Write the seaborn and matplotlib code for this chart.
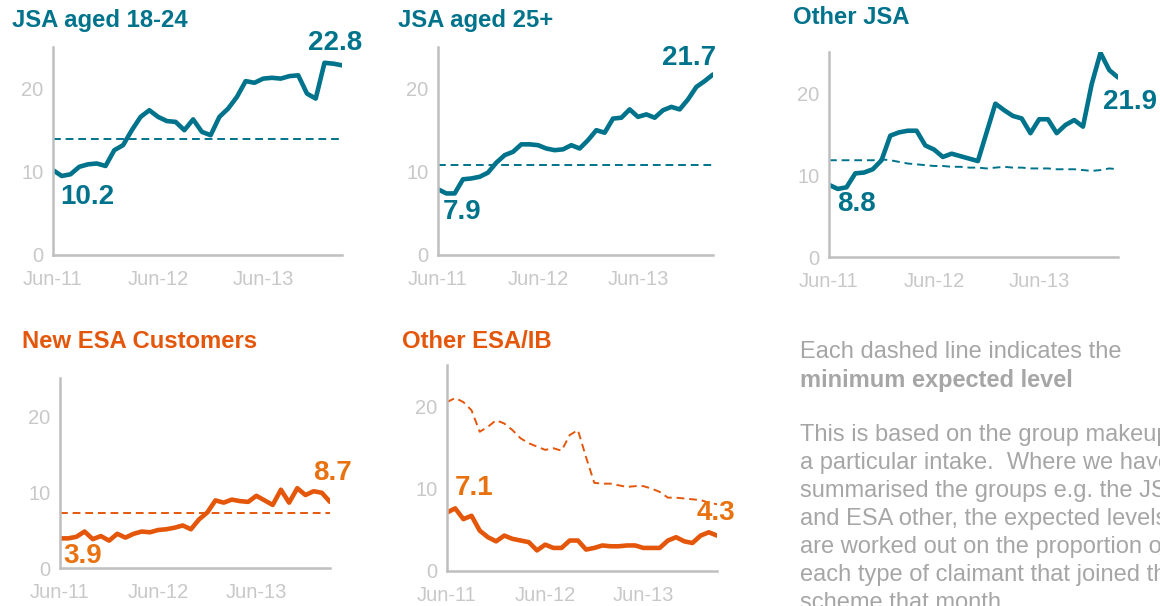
import pandas as pd
import matplotlib.pyplot as plt
import seaborn as sns

# Monthly series, Jun-11 .. Mar-14 (34 months)
months = list(range(34))
tick_pos = [0, 12, 24]
tick_labels = ['Jun-11', 'Jun-12', 'Jun-13']

jsa_18_24 = [10.2, 9.5, 9.7, 10.6, 10.9, 11.0, 10.7, 12.6, 13.2, 15.0, 16.6, 17.4,
             16.6, 16.1, 16.0, 15.0, 16.3, 14.8, 14.4, 16.6, 17.6, 19.0, 20.9, 20.7,
             21.2, 21.3, 21.2, 21.5, 21.6, 19.4, 18.8, 23.1, 23.0, 22.8]
jsa_18_24_exp = 14.0

jsa_25 = [7.9, 7.4, 7.4, 9.1, 9.2, 9.4, 9.9, 11.1, 12.0, 12.4, 13.3, 13.3,
          13.2, 12.8, 12.6, 12.7, 13.2, 12.8, 13.8, 15.0, 14.7, 16.4, 16.5, 17.5,
          16.6, 16.9, 16.5, 17.4, 17.8, 17.5, 18.7, 20.2, 20.9, 21.7]
jsa_25_exp = 10.8

other_jsa = [8.8, 8.3, 8.5, 10.2, 10.3, 10.7, 11.8, 14.8, 15.2, 15.4, 15.4, 13.6,
             13.1, 12.2, 12.6, 12.3, 12.0, 11.7, 15.2, 18.7, 17.9, 17.2, 16.9, 15.1,
             16.8, 16.8, 15.1, 16.1, 16.7, 15.9, 21.1, 24.9, 22.8, 21.9]
other_jsa_exp = [11.8, 11.8, 11.8, 11.8, 11.8, 11.8, 11.9, 11.8, 11.6, 11.4, 11.3, 11.2,
                 11.1, 11.1, 11.0, 11.0, 10.9, 10.9, 10.8, 10.9, 11.0, 10.9, 10.9, 10.8,
                 10.8, 10.8, 10.7, 10.7, 10.7, 10.6, 10.5, 10.6, 10.8, 10.7]

new_esa = [3.9, 3.9, 4.1, 4.8, 3.8, 4.2, 3.6, 4.5, 4.0, 4.5, 4.8, 4.7,
           5.0, 5.1, 5.3, 5.6, 5.1, 6.4, 7.3, 8.9, 8.6, 9.0, 8.8, 8.7,
           9.5, 8.9, 8.3, 10.3, 8.6, 10.5, 9.6, 10.1, 9.9, 8.7]
new_esa_exp = 7.3

other_esa = [7.1, 7.6, 6.3, 6.7, 4.9, 4.1, 3.6, 4.3, 3.9, 3.7, 3.5, 2.5,
             3.2, 2.8, 2.8, 3.7, 3.7, 2.6, 2.8, 3.1, 3.0, 3.0, 3.1, 3.1,
             2.8, 2.8, 2.8, 3.7, 4.1, 3.6, 3.4, 4.3, 4.7, 4.3]
other_esa_exp = [20.5, 21.0, 20.5, 19.5, 16.9, 17.5, 18.3, 17.9, 17.1, 16.1, 15.5, 15.1,
                 14.7, 14.9, 14.6, 16.5, 17.1, 13.8, 10.7, 10.6, 10.6, 10.4, 10.2, 10.3,
                 10.3, 10.0, 9.6, 8.9, 8.9, 8.8, 8.7, 8.6, 8.3, 8.1]

TEAL = '#00738c'
ORANGE = '#e4570b'
ORANGE_LBL = '#e8720f'
GRID_GREY = '#bfbfbf'
TICK_GREY = '#c8c8c8'
TEXT_GREY = '#a6a6a6'

sns.set_style('white')
plt.rcParams['font.family'] = ['Liberation Sans', 'DejaVu Sans']

W, H = 1160, 606
fig = plt.figure(figsize=(W / 100, H / 100), dpi=100)


def px_axes(left, right, top, bottom):
    return fig.add_axes([left / W, 1 - bottom / H, (right - left) / W, (bottom - top) / H])


def panel(ax, title, tx, ty, values, expected, color, lbl_color, start_off, end_off):
    df = pd.DataFrame({'month': months, 'value': values})
    sns.lineplot(data=df, x='month', y='value', ax=ax, color=color, lw=3.3,
                 solid_capstyle='round', solid_joinstyle='round')
    if isinstance(expected, list):
        dfe = pd.DataFrame({'month': months, 'value': expected})
        sns.lineplot(data=dfe, x='month', y='value', ax=ax, color=color, lw=1.4,
                     linestyle=(0, (4, 2.5)))
    else:
        ax.axhline(expected, color=color, lw=1.4, linestyle=(0, (4, 2.5)))
    ax.set_xlim(0, 33)
    ax.set_ylim(0, 25)
    ax.set_xticks(tick_pos)
    ax.set_xticklabels(tick_labels)
    ax.set_yticks([0, 10, 20])
    ax.set_xlabel('')
    ax.set_ylabel('')
    sns.despine(ax=ax)
    for s in ['left', 'bottom']:
        ax.spines[s].set_color(GRID_GREY)
        ax.spines[s].set_linewidth(1.8)
    ax.tick_params(axis='both', colors=GRID_GREY, labelcolor=TICK_GREY,
                   labelsize=14.5, length=5, width=1.5, direction='out')
    ax.tick_params(axis='x', pad=6)
    ax.tick_params(axis='y', pad=2)
    ax.patch.set_alpha(0)
    for idx, off in [(0, start_off), (len(values) - 1, end_off)]:
        ax.annotate(f'{values[idx]:.1f}', (months[idx], values[idx]),
                    xytext=off, textcoords='offset pixels', ha='center', va='center',
                    fontsize=20, fontweight='bold', color=lbl_color,
                    annotation_clip=False)
    fig.text(tx / W, 1 - ty / H, title, fontsize=17.2, fontweight='bold',
             color=color, ha='left', va='center')


ax1 = px_axes(53, 342, 47, 255)
panel(ax1, 'JSA aged 18-24', 12, 20, jsa_18_24, jsa_18_24_exp, TEAL, TEAL, (34, -27), (-7, 22))

ax2 = px_axes(438, 713, 47, 255)
panel(ax2, 'JSA aged 25+', 398, 20, jsa_25, jsa_25_exp, TEAL, TEAL, (24, -23), (-24, 16))

ax3 = px_axes(829, 1118, 52, 257)
panel(ax3, 'Other JSA', 793, 17, other_jsa, other_jsa_exp, TEAL, TEAL, (27, -19), (12, -25))

ax4 = px_axes(60, 330, 378, 568)
panel(ax4, 'New ESA Customers', 22, 341, new_esa, new_esa_exp, ORANGE, ORANGE_LBL, (23, -18), (3, 29))

ax5 = px_axes(447, 717, 365, 571)
panel(ax5, 'Other ESA/IB', 402, 341, other_esa, other_esa_exp, ORANGE, ORANGE_LBL, (27, 24), (-1, 23))

# explanatory note (runs off the right edge, as in the source slide)
note_x = 800 / W
note_size = 17
fig.text(note_x, 1 - 352 / H, 'Each dashed line indicates the', fontsize=note_size,
         color=TEXT_GREY, ha='left', va='center')
fig.text(note_x, 1 - 380 / H, 'minimum expected level', fontsize=note_size, fontweight='bold',
         color=TEXT_GREY, ha='left', va='center')
note_lines = ['This is based on the group makeup of',
              'a particular intake.  Where we have',
              'summarised the groups e.g. the JSA other',
              'and ESA other, the expected levels',
              'are worked out on the proportion of',
              'each type of claimant that joined the',
              'scheme that month.']
for i, line in enumerate(note_lines):
    fig.text(note_x, 1 - (435 + 28 * i) / H, line, fontsize=note_size,
             color=TEXT_GREY, ha='left', va='center')

fig.savefig('out.png', dpi=100)
